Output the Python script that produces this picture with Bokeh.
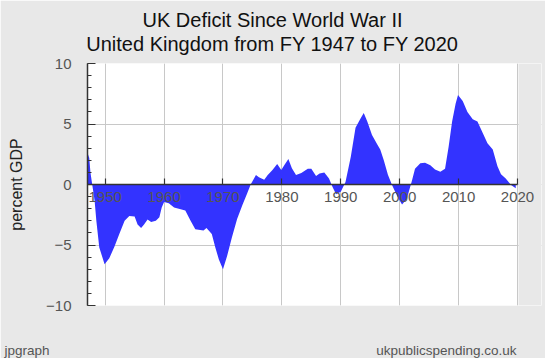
from bokeh.plotting import figure
from bokeh.models import FixedTicker, LinearAxis, Label, Range1d, Grid, BoxAnnotation
from bokeh.embed import file_html
from bokeh.resources import INLINE

# ---- data ----
years = [1947.0, 1947.3, 1947.5, 1947.8, 1948.2, 1948.5, 1949.0, 1949.9, 1950.7, 1951.6,
         1952.4, 1953.3, 1954.1, 1955.0, 1955.5, 1956.1, 1956.6, 1957.2, 1957.8, 1958.6,
         1959.2, 1959.6, 1960.0, 1960.8, 1961.7, 1962.5, 1963.6, 1964.5, 1965.3, 1966.7,
         1967.2, 1968.1, 1968.7, 1969.3, 1970.0, 1970.7, 1971.5, 1972.4, 1973.3, 1974.1,
         1974.7, 1975.6, 1976.1, 1977.0, 1977.6, 1978.4, 1979.2, 1979.9, 1980.4, 1981.1,
         1981.7, 1982.4, 1983.3, 1984.4, 1985.0, 1985.8, 1986.4, 1987.2, 1988.0, 1988.6,
         1989.2, 1990.0, 1990.8, 1991.7, 1992.5, 1993.4, 1993.9, 1994.5, 1995.3, 1996.2,
         1996.7, 1997.3, 1998.0, 1998.7, 1999.6, 2000.4, 2001.2, 2002.1, 2002.6, 2003.5,
         2004.3, 2005.2, 2006.0, 2006.9, 2007.7, 2008.3, 2008.9, 2009.5, 2009.9, 2010.7,
         2011.5, 2012.4, 2013.2, 2014.1, 2014.9, 2015.8, 2016.6, 2017.2, 2018.0, 2018.9,
         2019.4, 2019.7]
deficit_pct_gdp = [2.6, 2.2, 1.0, 0.0, -1.3, -3.0, -5.2, -6.6, -6.1, -5.1,
                   -4.1, -3.0, -2.6, -2.65, -3.3, -3.6, -3.3, -2.9, -3.1, -3.0,
                   -2.7, -1.9, -1.45, -1.55, -1.9, -2.0, -2.15, -3.0, -3.7, -3.8,
                   -3.6, -4.1, -5.2, -6.2, -7.0, -5.9, -4.4, -2.85, -1.7, -0.75,
                   0.0, 0.78, 0.6, 0.4, 0.78, 1.2, 1.7, 1.2, 1.6, 2.1,
                   1.35, 0.78, 0.95, 1.3, 1.3, 0.7, 0.9, 1.0, 0.5, -0.2,
                   -0.8, -0.6, 0.2, 2.3, 4.7, 5.5, 5.9, 5.2, 4.1, 3.3,
                   2.9, 2.0, 0.8, -0.05, -1.0, -1.65, -1.2, 0.35, 1.3, 1.75,
                   1.8, 1.6, 1.25, 1.05, 1.3, 3.1, 5.2, 6.7, 7.4, 6.9,
                   6.0, 5.4, 5.2, 4.25, 3.4, 2.9, 1.5, 0.85, 0.5, -0.05,
                   -0.2, -0.3]
x_ticks = [1950, 1960, 1970, 1980, 1990, 2000, 2010, 2020]
y_ticks = [-10, -5, 0, 5, 10]
y_minor_ticks = list(range(-10, 11))
title_line1 = "UK Deficit Since World War II"
title_line2 = "United Kingdom from FY 1947 to FY 2020"
y_label = "percent GDP"
credit_left = "jpgraph"
credit_right = "ukpublicspending.co.uk"

X0, X1 = 1947, 2020
Y0, Y1 = -10, 10

FONT = "Liberation Sans"
BG = "#e8e8e8"
AREA = "#3333ff"
GRID = "#c8c8c8"
AXIS = "#333333"

W, H = 545, 358
LEFT, TOP, BOTTOM = 87, 63, 53
PLOT_W = 430                      # visible chart width (1947..2020)
FRAME_W = W - LEFT - 4            # frame extended to the right so that the
PX_PER_YEAR = PLOT_W / (X1 - X0)  # last tick label is not clipped
X_END = X0 + FRAME_W / PX_PER_YEAR

p = figure(width=W, height=H, output_backend="svg", toolbar_location=None,
           x_range=Range1d(X0, X_END), y_range=Range1d(Y0, Y1),
           x_axis_location=None, y_axis_location=None,
           min_border_left=LEFT, min_border_right=W - LEFT - FRAME_W,
           min_border_top=TOP, min_border_bottom=BOTTOM)
p.border_fill_color = BG
p.background_fill_color = "white"
p.outline_line_color = None

# grids
p.add_layout(Grid(dimension=0, ticker=FixedTicker(ticks=x_ticks),
                  grid_line_color=GRID, grid_line_width=1))
p.add_layout(Grid(dimension=1, ticker=FixedTicker(ticks=y_ticks),
                  grid_line_color=GRID, grid_line_width=1))
# background colour again right of the chart's last year
p.add_layout(BoxAnnotation(left=X1 + 1.0 / PX_PER_YEAR, fill_color=BG, fill_alpha=1.0,
                           line_color=None, level="underlay"))

# area
p.varea(x=years, y1=0, y2=deficit_pct_gdp, fill_color=AREA)

# zero line (x axis line) across the chart's years only
p.segment(x0=[X0], y0=[0], x1=[X1], y1=[0], line_color=AXIS, line_width=1.5)

# y axis (left)
yaxis = LinearAxis(ticker=FixedTicker(ticks=y_ticks, minor_ticks=y_minor_ticks))
yaxis.axis_line_color = AXIS
yaxis.axis_line_width = 1.5
yaxis.major_tick_line_color = AXIS
yaxis.minor_tick_line_color = AXIS
yaxis.major_tick_in = 8
yaxis.major_tick_out = 0
yaxis.minor_tick_in = 4
yaxis.minor_tick_out = 0
yaxis.major_label_standoff = 16
yaxis.major_label_text_font = FONT
yaxis.major_label_text_font_size = "15px"
yaxis.major_label_text_color = "#555555"
yaxis.axis_label = y_label
yaxis.axis_label_text_font = FONT
yaxis.axis_label_text_font_size = "16px"
yaxis.axis_label_text_font_style = "normal"
yaxis.axis_label_text_color = "#222222"
yaxis.axis_label_standoff = 18
p.add_layout(yaxis, "left")

# x axis ticks and labels drawn at y = 0
xaxis = LinearAxis(ticker=FixedTicker(ticks=x_ticks, minor_ticks=[]), fixed_location=0)
xaxis.axis_line_color = None
xaxis.major_tick_line_color = AXIS
xaxis.major_tick_line_width = 1.2
xaxis.major_tick_in = 6
xaxis.major_tick_out = 0
xaxis.minor_tick_in = 0
xaxis.minor_tick_out = 0
xaxis.major_label_standoff = 7
xaxis.major_label_text_font = FONT
xaxis.major_label_text_font_size = "15px"
xaxis.major_label_text_color = "#555555"
p.add_layout(xaxis, "below")

# titles and credits in side panels (not clipped to the frame)
def lab(text, x, y, dx, dy, size, color, align, place):
    p.add_layout(Label(x=x, y=y, x_offset=dx, y_offset=dy, text=text,
                       text_font=FONT, text_font_size=size, text_color=color,
                       text_align=align, text_baseline="middle"), place)

lab(title_line2, X0, Y1, 185, 20, "20px", "#111111", "center", "above")
lab(title_line1, X0, Y1, 185, 43.5, "20px", "#111111", "center", "above")
lab(credit_left, X0, Y0, -83, -45, "13.5px", "#555555", "left", "below")
lab(credit_right, X1, Y0, -1, -45, "13.5px", "#555555", "right", "below")

open("out.html", "w").write(file_html(p, INLINE))
